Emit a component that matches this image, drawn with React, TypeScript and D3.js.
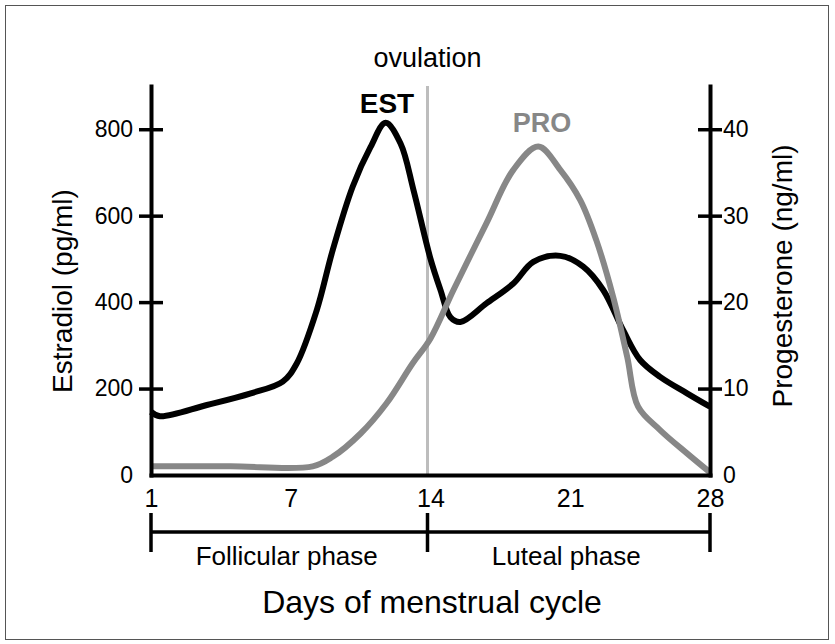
import React, { useEffect, useRef } from "react"
import * as d3 from "d3"

// estradiol curve (pg/ml)
const estDays = [0, 0.45, 2.8, 5.0, 6.6, 7.3, 8.3, 9.1, 10.1, 11.0, 11.75, 12.5, 13.15, 14.0, 14.5, 15.0, 15.5, 16.8, 18.15, 19.15, 20.5, 21.65, 22.65, 23.65, 24.5, 25.5, 26.85, 28]
const estValues = [146, 136, 162, 189, 216, 258, 381, 520, 667, 759, 815, 767, 659, 500, 428, 365, 354, 397, 443, 493, 507, 482, 428, 335, 266, 227, 189, 158]

// progesterone curve (ng/ml)
const proDays = [0, 4, 8.1, 9.1, 10.5, 11.8, 13.1, 14.0, 15.15, 16.8, 18.15, 19.4, 20.5, 21.5, 22.3, 23.15, 23.85, 24.4, 25.5, 26.85, 28]
const proValues = [1.0, 1.0, 1.0, 2.1, 4.8, 8.3, 12.9, 15.8, 21.4, 29.1, 35.3, 38.0, 35.3, 31.8, 27.2, 20.6, 13.7, 7.9, 5.2, 2.5, 0.3]

const dayTicks = [0, 7, 14, 21, 28]
const dayLabels = ["1", "7", "14", "21", "28"]
const estTicks = [0, 200, 400, 600, 800]
const proTicks = [0, 10, 20, 30, 40]
const ovulationDay = 14
const phaseNames = ["Follicular phase", "Luteal phase"]
const phaseBounds = [0, 14, 28]

const font = "'Liberation Sans', Arial, Helvetica, sans-serif"

const App = () => {
  const ref = useRef<SVGSVGElement>(null)

  useEffect(() => {
    drawChart()
  }, [])

  const drawChart = () => {
    const svg = d3.select(ref.current)
    svg.selectAll("*").remove()

    const x = d3.scaleLinear().domain([0, 28]).range([151, 710])
    const yEst = d3.scaleLinear().domain([0, 900]).range([475, 86])
    const yPro = d3.scaleLinear().domain([0, 45]).range([475, 86])
    const ovX = x(ovulationDay) - 3

    svg.append("rect")
      .attr("x", 5.5).attr("y", 5.5).attr("width", 823).attr("height", 634)
      .attr("fill", "white").attr("stroke", "#555").attr("stroke-width", 1)

    svg.append("text")
      .attr("x", ovX).attr("y", 67)
      .attr("text-anchor", "middle").attr("font-size", 27).attr("font-family", font)
      .text("ovulation")

    svg.append("line")
      .attr("x1", ovX).attr("x2", ovX)
      .attr("y1", yEst(900)).attr("y2", yEst(0))
      .attr("stroke", "#bdbdbd").attr("stroke-width", 3)

    const estLine = d3.line<number>()
      .x((d, i) => x(estDays[i]))
      .y(d => yEst(d))
      .curve(d3.curveCatmullRom.alpha(0.5))
    const proLine = d3.line<number>()
      .x((d, i) => x(proDays[i]))
      .y(d => yPro(d))
      .curve(d3.curveCatmullRom.alpha(0.5))

    svg.append("path")
      .attr("d", estLine(estValues))
      .attr("fill", "none").attr("stroke", "#000").attr("stroke-width", 6)
      .attr("stroke-linejoin", "round")
    svg.append("path")
      .attr("d", proLine(proValues))
      .attr("fill", "none").attr("stroke", "#878787").attr("stroke-width", 6)
      .attr("stroke-linejoin", "round")

    // x axis
    const gx = svg.append("g")
      .attr("transform", `translate(0, ${yEst(0)})`)
      .call(d3.axisBottom(x).tickValues(dayTicks).tickFormat((d, i) => dayLabels[i]).tickSize(0).tickPadding(14).tickSizeOuter(0))
      .attr("font-size", 25).attr("font-family", font)
    gx.select(".domain").attr("stroke-width", 4).attr("stroke-linecap", "square")
    gx.selectAll("text").attr("fill", "#000")

    // left axis
    const gl = svg.append("g")
      .attr("transform", `translate(${x(0)}, 0)`)
      .call(d3.axisLeft(yEst).tickValues(estTicks).tickSize(0).tickPadding(18).tickSizeOuter(0))
      .attr("font-size", 23).attr("font-family", font)
    gl.select(".domain").attr("stroke-width", 4).attr("stroke-linecap", "square")
    gl.selectAll(".tick line").attr("x1", -12).attr("x2", 12).attr("stroke-width", 3.5)
      .attr("stroke", "#000").attr("opacity", (d: any) => (d === 0 ? 0 : 1))
    gl.selectAll("text").attr("fill", "#000")

    // right axis
    const gr = svg.append("g")
      .attr("transform", `translate(${x(28)}, 0)`)
      .call(d3.axisRight(yPro).tickValues(proTicks).tickSize(0).tickPadding(13).tickSizeOuter(0))
      .attr("font-size", 23).attr("font-family", font)
    gr.select(".domain").attr("stroke-width", 4).attr("stroke-linecap", "square")
    gr.selectAll(".tick line").attr("x1", -12).attr("x2", 12).attr("stroke-width", 3.5)
      .attr("stroke", "#000").attr("opacity", (d: any) => (d === 0 ? 0 : 1))
    gr.selectAll("text").attr("fill", "#000")

    // axis titles
    svg.append("text")
      .attr("transform", "translate(62, 291) rotate(-90)")
      .attr("text-anchor", "middle").attr("dy", "0.35em")
      .attr("font-size", 28).attr("font-family", font)
      .text("Estradiol (pg/ml)")
    svg.append("text")
      .attr("transform", "translate(782, 276) rotate(-90)")
      .attr("text-anchor", "middle").attr("dy", "0.35em")
      .attr("font-size", 28).attr("font-family", font)
      .text("Progesterone (ng/ml)")

    // series labels
    svg.append("text")
      .attr("x", 387).attr("y", 113).attr("text-anchor", "middle")
      .attr("font-size", 28).attr("font-weight", "bold").attr("font-family", font)
      .text("EST")
    svg.append("text")
      .attr("x", 542).attr("y", 132).attr("text-anchor", "middle")
      .attr("font-size", 27).attr("font-weight", "bold").attr("font-family", font)
      .attr("fill", "#878787")
      .text("PRO")

    // phase bracket
    const bracket = svg.append("g").attr("stroke", "#000").attr("stroke-width", 3.5)
    bracket.append("line")
      .attr("x1", x(phaseBounds[0])).attr("x2", x(phaseBounds[phaseBounds.length - 1]))
      .attr("y1", 532).attr("y2", 532)
    bracket.selectAll("line.tick")
      .data(phaseBounds)
      .join("line")
      .attr("class", "tick")
      .attr("x1", d => (d === ovulationDay ? ovX : x(d))).attr("x2", d => (d === ovulationDay ? ovX : x(d)))
      .attr("y1", 513).attr("y2", 552)

    svg.selectAll("text.phase")
      .data(phaseNames)
      .join("text")
      .attr("class", "phase")
      .attr("x", (d, i) => (x(phaseBounds[i]) + x(phaseBounds[i + 1])) / 2 - 4)
      .attr("y", 565)
      .attr("text-anchor", "middle").attr("font-size", 26).attr("font-family", font)
      .text(d => d)

    svg.append("text")
      .attr("x", 432).attr("y", 613).attr("text-anchor", "middle")
      .attr("font-size", 32).attr("font-family", font)
      .text("Days of menstrual cycle")
  }

  return (
    <svg ref={ref} width={835} height={644} style={{ position: "absolute", left: 0, top: 0 }} />
  )
}

export default App
